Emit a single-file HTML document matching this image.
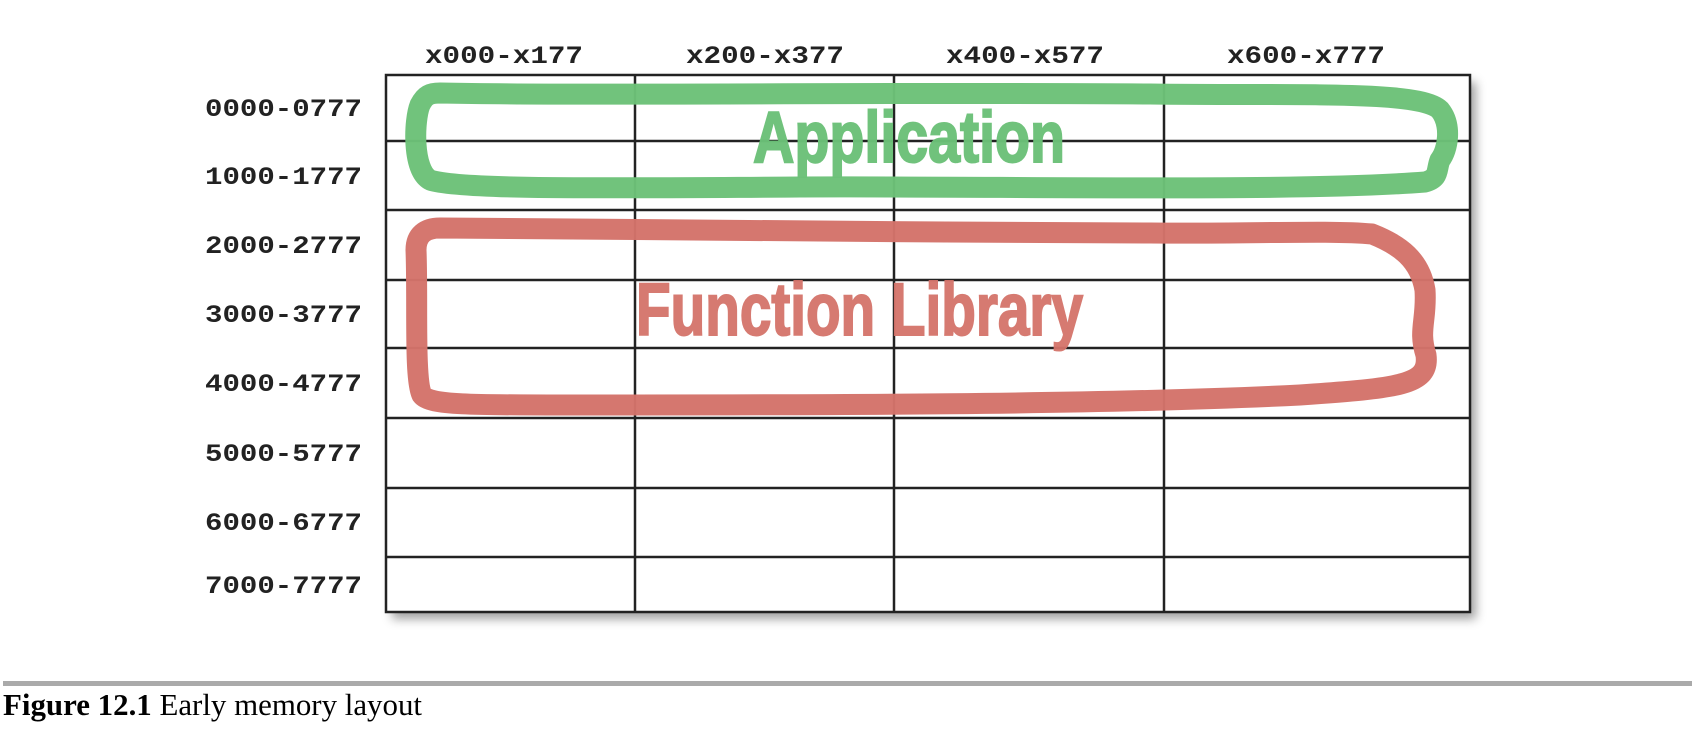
<!DOCTYPE html>
<html><head><meta charset="utf-8"><style>
html,body{margin:0;padding:0;background:#fff;}
svg{display:block;}
</style></head><body>
<svg width="1692" height="732" viewBox="0 0 1692 732" xmlns="http://www.w3.org/2000/svg">
<defs>
<filter id="sh" x="-5%" y="-5%" width="110%" height="120%">
<feGaussianBlur stdDeviation="5"/>
</filter>
</defs>
<rect x="392" y="82" width="1084" height="537" fill="#555" opacity="0.55" filter="url(#sh)"/>
<rect x="386" y="75" width="1084" height="537" fill="#fff"/>
<g stroke="#222" stroke-width="2.5" fill="none">
<rect x="386" y="75" width="1084" height="537"/>
<line x1="635" y1="75" x2="635" y2="612"/>
<line x1="894" y1="75" x2="894" y2="612"/>
<line x1="1164" y1="75" x2="1164" y2="612"/>
<line x1="386" y1="141" x2="1470" y2="141"/>
<line x1="386" y1="210" x2="1470" y2="210"/>
<line x1="386" y1="280" x2="1470" y2="280"/>
<line x1="386" y1="348" x2="1470" y2="348"/>
<line x1="386" y1="418" x2="1470" y2="418"/>
<line x1="386" y1="488" x2="1470" y2="488"/>
<line x1="386" y1="557" x2="1470" y2="557"/>
</g>
<g font-family="Liberation Mono, monospace" font-weight="bold" font-size="25" fill="#222">
<text x="504" y="63" text-anchor="middle" textLength="158" lengthAdjust="spacingAndGlyphs">x000-x177</text>
<text x="765" y="63" text-anchor="middle" textLength="158" lengthAdjust="spacingAndGlyphs">x200-x377</text>
<text x="1025" y="63" text-anchor="middle" textLength="158" lengthAdjust="spacingAndGlyphs">x400-x577</text>
<text x="1306" y="63" text-anchor="middle" textLength="158" lengthAdjust="spacingAndGlyphs">x600-x777</text>
<text x="205" y="116" textLength="157" lengthAdjust="spacingAndGlyphs">0000-0777</text>
<text x="205" y="184" textLength="157" lengthAdjust="spacingAndGlyphs">1000-1777</text>
<text x="205" y="253" textLength="157" lengthAdjust="spacingAndGlyphs">2000-2777</text>
<text x="205" y="322" textLength="157" lengthAdjust="spacingAndGlyphs">3000-3777</text>
<text x="205" y="391" textLength="157" lengthAdjust="spacingAndGlyphs">4000-4777</text>
<text x="205" y="461" textLength="157" lengthAdjust="spacingAndGlyphs">5000-5777</text>
<text x="205" y="530" textLength="157" lengthAdjust="spacingAndGlyphs">6000-6777</text>
<text x="205" y="593" textLength="157" lengthAdjust="spacingAndGlyphs">7000-7777</text>
</g>
<path d="M440,93 C600,96 900,92 1150,94 C1300,96 1420,90 1440,110 C1452,125 1448,150 1440,160 C1436,170 1440,178 1425,182 C1300,192 1000,186 800,187 C600,188 460,190 430,180 C412,170 414,120 420,105 C425,95 430,93 440,93 Z" fill="none" stroke="#6cc178" stroke-width="21" stroke-linejoin="round" opacity="0.97"/>
<path d="M440,228 C600,230 900,232 1150,233 C1250,234 1330,230 1372,234 C1400,245 1420,260 1425,290 C1427,320 1418,330 1426,355 C1430,385 1400,388 1300,395 C1100,405 800,405 600,405 C480,405 430,406 422,395 C414,380 418,300 416,250 C416,235 425,228 440,228 Z" fill="none" stroke="#d4736a" stroke-width="21" stroke-linejoin="round" opacity="0.97"/>
<text x="753" y="162" font-family="Liberation Sans, sans-serif" font-weight="bold" font-size="72" fill="#6cc178" textLength="312" lengthAdjust="spacingAndGlyphs" stroke="#6cc178" stroke-width="2" opacity="0.97">Application</text>
<text x="636" y="335" font-family="Liberation Sans, sans-serif" font-weight="bold" font-size="74" fill="#d4736a" textLength="447" lengthAdjust="spacingAndGlyphs" stroke="#d4736a" stroke-width="2" opacity="0.95">Function Library</text>
<rect x="3" y="681" width="1689" height="5" fill="#aaa"/>
<text x="3" y="715" font-family="Liberation Serif, serif" font-size="31" fill="#000" textLength="419" lengthAdjust="spacingAndGlyphs"><tspan font-weight="bold">Figure 12.1</tspan> Early memory layout</text>
</svg>
</body></html>
